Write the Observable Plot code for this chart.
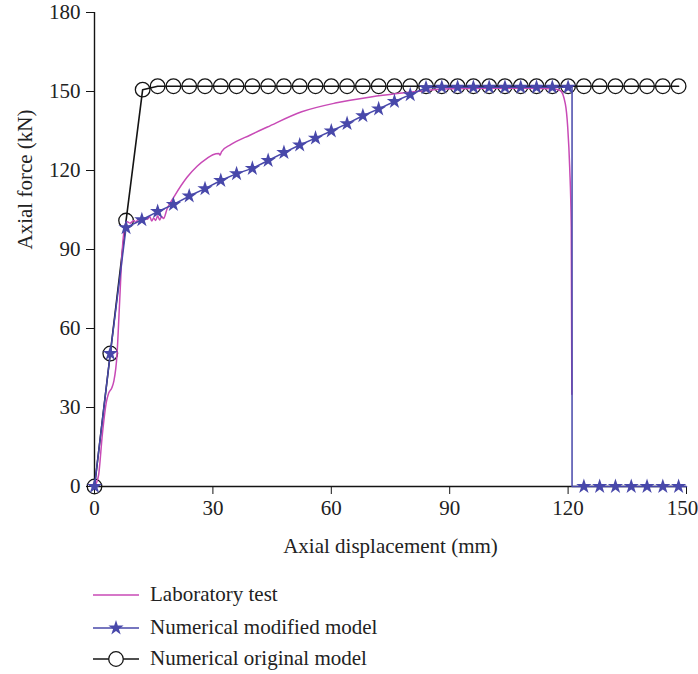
<!DOCTYPE html>
<html>
<head>
<meta charset="utf-8">
<script src="https://cdn.jsdelivr.net/npm/d3@7"></script>
<script src="https://cdn.jsdelivr.net/npm/@observablehq/plot@0.6"></script>
<style>
  body { margin: 0; background: #fff; font-family: "Liberation Serif", serif; }
  #chart { width: 698px; }
  .legend { position: relative; height: 109px; }
  .row { position: absolute; left: 93px; display: flex; align-items: center; font-size: 21px; color: #222; }
  .row svg { margin-right: 10px; }
</style>
</head>
<body>
<div id="chart"></div>
<script>
// Laboratory test (x: mm, y: kN)
const labX = [0, 1, 2, 3, 3.6, 4.4, 4.9, 5.7, 6.3, 7.0, 7.4, 7.8, 8.3, 9, 10, 10.5, 11, 12, 12.5, 13.4, 14, 14.5, 15, 15.5, 16, 16.5, 17, 17.5, 18.4, 20.1, 23.5, 26, 28.5, 30, 31.5, 31.8, 32.2, 34.5, 39.5, 43.8, 52.5, 61, 70, 76.7, 81, 84.5, 90, 100, 110, 116, 118, 119.3, 119.9, 120.4, 120.8, 120.95];
const labY = [0, 4, 20, 32, 35.5, 37.5, 40, 50, 68, 89, 96, 99.5, 100.5, 100, 101, 100.2, 101.5, 100.8, 102, 101.5, 102.5, 100.8, 102, 101, 102.8, 101.2, 102.5, 101.8, 105.5, 109.9, 117.5, 121.6, 124.6, 126, 126.5, 125.8, 127.2, 129.8, 133.5, 136.5, 142.3, 145.6, 147.9, 149.2, 149.9, 150.5, 151, 151.2, 151.2, 151, 150.4, 145.3, 136.5, 121.3, 98.5, 35];

// Numerical modified model: line and star markers
const modLineX = [0, 4, 8, 12, 16, 20, 24, 28, 32, 36, 40, 44, 48, 52, 56, 60, 64, 68, 72, 76, 80, 84, 88, 92, 96, 100, 104, 108, 112, 116, 120, 121, 121, 124, 128, 132, 136, 140, 144, 148, 150];
const modLineY = [0, 50.5, 98.3, 101.3, 104.4, 107.1, 110.3, 113.1, 116.2, 118.8, 120.8, 123.8, 126.8, 129.7, 132.3, 135, 137.8, 140.8, 143.4, 146.2, 148.8, 151.4, 151.6, 151.6, 151.6, 151.6, 151.6, 151.6, 151.6, 151.6, 151.6, 151.6, 0, 0, 0, 0, 0, 0, 0, 0, 0];
const modStarX = [0, 4, 8, 12, 16, 20, 24, 28, 32, 36, 40, 44, 48, 52, 56, 60, 64, 68, 72, 76, 80, 84, 88, 92, 96, 100, 104, 108, 112, 116, 120, 124, 128, 132, 136, 140, 144, 148];
const modStarY = [0, 50.5, 98.3, 101.3, 104.4, 107.1, 110.3, 113.1, 116.2, 118.8, 120.8, 123.8, 126.8, 129.7, 132.3, 135, 137.8, 140.8, 143.4, 146.2, 148.8, 151.4, 151.6, 151.6, 151.6, 151.6, 151.6, 151.6, 151.6, 151.6, 151.6, 0, 0, 0, 0, 0, 0, 0];

// Numerical original model: line and circle markers
const origX = [0, 4, 8, 12.2, 16, 20, 24, 28, 32, 36, 40, 44, 48, 52, 56, 60, 64, 68, 72, 76, 80, 84, 88, 92, 96, 100, 104, 108, 112, 116, 120, 124, 128, 132, 136, 140, 144, 148];
const origY = [0, 50.5, 101, 150.7, 152, 152, 152, 152, 152, 152, 152, 152, 152, 152, 152, 152, 152, 152, 152, 152, 152, 152, 152, 152, 152, 152, 152, 152, 152, 152, 152, 152, 152, 152, 152, 152, 152, 152];

const xTicks = [0, 30, 60, 90, 120, 150];
const yTicks = [0, 30, 60, 90, 120, 150, 180];
const seriesNames = ["Laboratory test", "Numerical modified model", "Numerical original model"];

const MAGENTA = "#c84ab6";
const BLUE = "#4848aa";
const BLACK = "#141414";

const zip = (xs, ys) => xs.map((x, i) => ({x, y: ys[i]}));
const lab = zip(labX, labY);
const modLine = zip(modLineX, modLineY);
const modStars = zip(modStarX, modStarY);
const orig = zip(origX, origY);

const chart = Plot.plot({
  width: 698,
  height: 565,
  marginLeft: 94,
  marginRight: 12,
  marginTop: 12,
  marginBottom: 79,
  style: { fontFamily: "Liberation Serif, serif", fontSize: "21px", color: "#222", background: "#fff" },
  x: { domain: [0, 150] },
  y: { domain: [0, 180] },
  marks: [
    Plot.axisX({ticks: xTicks, tickSize: 8, stroke: BLACK, label: null, text: null}),
    Plot.axisX({ticks: xTicks.slice(0, -1), tickSize: 0, tickPadding: 14, label: null, fill: "#222", fontSize: 21}),
    Plot.axisX({ticks: xTicks.slice(-1), tickSize: 0, tickPadding: 14, label: null, fill: "#222", fontSize: 21, dx: -4}),
    Plot.axisY({ticks: yTicks, tickSize: 8, tickPadding: 6, label: null, stroke: BLACK, fontSize: 21}),
    Plot.text(["Axial displacement (mm)"], {frameAnchor: "bottom", dy: 66, fontSize: 21, fill: "#222", lineAnchor: "bottom"}),
    Plot.text(["Axial force (kN)"], {frameAnchor: "left", dx: -69, rotate: -90, fontSize: 21, fill: "#222"}),
    Plot.ruleY([0], {stroke: BLACK, strokeWidth: 1.4}),
    Plot.ruleX([0], {stroke: BLACK, strokeWidth: 1.4}),
    Plot.line(orig, {x: "x", y: "y", stroke: BLACK, strokeWidth: 1.6}),
    Plot.dot(orig, {x: "x", y: "y", r: 7.3, stroke: BLACK, fill: "none", strokeWidth: 1.3}),
    Plot.line(lab, {x: "x", y: "y", stroke: MAGENTA, strokeWidth: 1.5, curve: "monotone-x"}),
    Plot.line(modLine, {x: "x", y: "y", stroke: BLUE, strokeWidth: 1.5}),
    Plot.dot(modStars, {x: "x", y: "y", symbol: "star", r: 4.8, fill: BLUE, stroke: "none"})
  ]
});
document.getElementById("chart").appendChild(chart);

// Legend below the plot
const legend = document.createElement("div");
legend.className = "legend";
const rowTops = [17, 50, 81];
seriesNames.forEach((name, i) => {
  const row = document.createElement("div");
  row.className = "row";
  row.style.top = rowTops[i] + "px";
  const sw = d3.create("svg").attr("width", 47).attr("height", 24);
  const color = [MAGENTA, BLUE, BLACK][i];
  sw.append("line").attr("x1", 0).attr("x2", 46).attr("y1", 12).attr("y2", 12)
    .attr("stroke", color).attr("stroke-width", 1.5);
  if (i === 1) sw.append("path").attr("d", d3.symbol(d3.symbolStar, 72)()).attr("transform", "translate(23,12)").attr("fill", BLUE);
  if (i === 2) sw.append("circle").attr("cx", 23).attr("cy", 12).attr("r", 7.3).attr("fill", "#fff").attr("stroke", BLACK).attr("stroke-width", 1.3);
  row.appendChild(sw.node());
  const t = document.createElement("span");
  t.textContent = name;
  row.appendChild(t);
  legend.appendChild(row);
});
document.getElementById("chart").appendChild(legend);
</script>
</body>
</html>
